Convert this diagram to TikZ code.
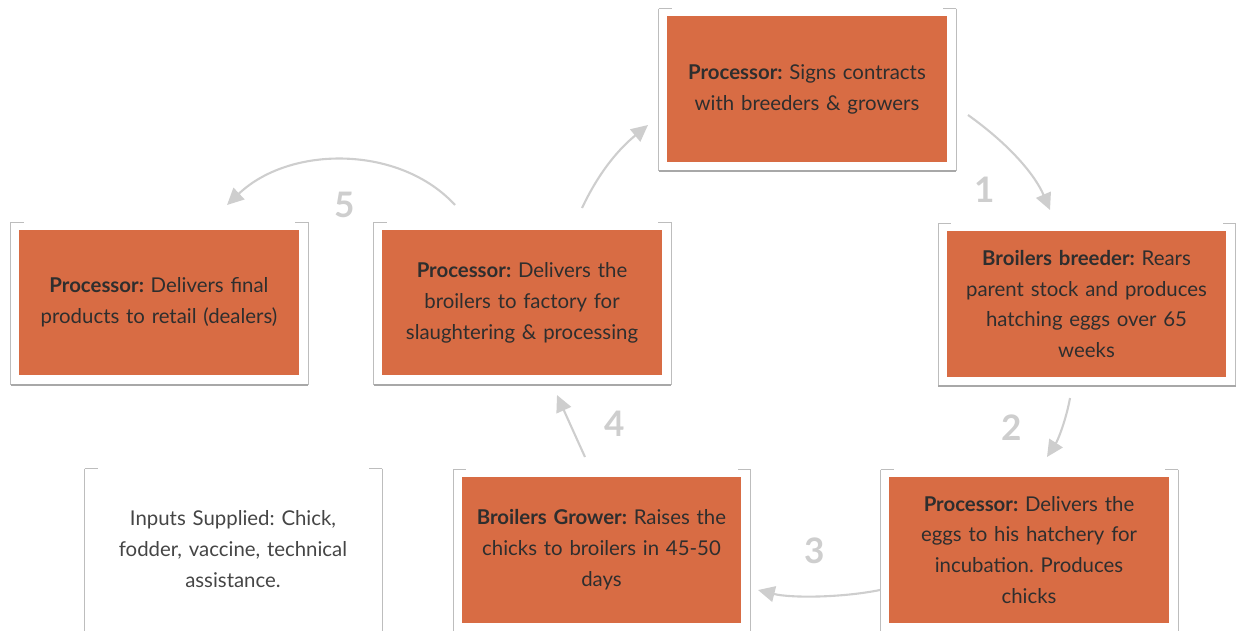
\documentclass[tikz,border=0pt]{standalone}
\usepackage{fontspec}
\setmainfont{Lato}
\frenchspacing
\usetikzlibrary{arrows.meta}
\definecolor{boxorange}{HTML}{D86C44}
\definecolor{boxtext}{HTML}{2E2E2E}
\definecolor{plaintext}{HTML}{454545}
\definecolor{arrowgrey}{HTML}{CECECE}
\definecolor{framegrey}{HTML}{BDBDBD}
\definecolor{shadowgrey}{HTML}{A8A8A8}
\tikzset{
  stagebox/.style={fill=boxorange,draw=none,minimum width=5.6cm,minimum height=2.92cm,
    inner sep=0pt,text width=5.3cm,align=center,text=boxtext,
    font=\fontsize{11.6}{17.6}\selectfont},
  plainbox/.style={stagebox,fill=none,text=plaintext},
  cycle arrow/.style={draw=arrowgrey,line width=1.2pt,
    -{Triangle[length=9.5pt,width=9pt]}},
  stepnum/.style={text=arrowgrey,font=\fontsize{20}{20}\selectfont\bfseries}
}
% white card round a box: grey sides, stubs on top, shadow below
\newcommand\cardframe[2][9]{%
  \draw[framegrey,line width=.5pt] ([shift={(-8,-7)}]#2.north west) -- ([shift={(-8,#1)}]#2.south west);
  \draw[framegrey,line width=.5pt] ([shift={(9,-7)}]#2.north east) -- ([shift={(9,#1)}]#2.south east);
  \draw[framegrey,line width=.5pt] ([shift={(-8,-7)}]#2.north west) -- +(13,0);
  \draw[framegrey,line width=.5pt] ([shift={(9,-7)}]#2.north east) -- +(-13,0);
  \draw[shadowgrey,line width=1.1pt] ([shift={(-8,#1)}]#2.south west) -- ([shift={(9,#1)}]#2.south east);
}
\begin{document}
\begin{tikzpicture}[x=0.02cm,y=-0.02cm]
  \useasboundingbox (0,0) rectangle (1236,630);
  \clip (0,0) rectangle (1236,630);

  \node[stagebox] (contract) at (807,89) {\textbf{Processor:} Signs contracts\\with breeders \& growers};
  \node[stagebox] (breeder) at (1086.5,304) {\textbf{Broilers breeder:} Rears\\parent stock and produces\\hatching eggs over 65\\weeks};
  \node[stagebox] (hatch) at (1029,550) {\textbf{Processor:} Delivers the\\eggs to his hatchery for\\incubation. Produces\\chicks};
  \node[stagebox] (grower) at (601.5,550) {\textbf{Broilers Grower:} Raises the\\chicks to broilers in 45-50\\days};
  \node[stagebox] (factory) at (522,302.5) {\textbf{Processor:} Delivers the\\broilers to factory for\\slaughtering \& processing};
  \node[stagebox] (retail) at (159,302.5) {\textbf{Processor:} Delivers final\\products to retail (dealers)};
  \node[plainbox] (inputs) at (233,549) {Inputs Supplied: Chick,\\fodder, vaccine, technical\\assistance.};

  \cardframe{contract}
  \cardframe{breeder}
  \cardframe[30]{hatch}
  \cardframe[30]{grower}
  \cardframe{factory}
  \cardframe{retail}
  \cardframe[30]{inputs}

  % ends of the arrows
  \coordinate (a1s) at (968,115);  \coordinate (a1e) at (1050,210);
  \coordinate (a2s) at (1070,398); \coordinate (a2e) at (1047,457);
  \coordinate (a3s) at (880,590);  \coordinate (a3e) at (758,590);
  \coordinate (a4s) at (585,457);  \coordinate (a4e) at (557,395);
  \coordinate (a5s) at (455,205);  \coordinate (a5e) at (227,205);
  \coordinate (a6s) at (582,208);  \coordinate (a6e) at (648,125);

  \draw[cycle arrow] (a1s) .. controls (1010,145) and (1035,175) .. (a1e);
  \draw[cycle arrow] (a2s) .. controls (1066,420) and (1058,440) .. (a2e);
  \draw[cycle arrow] (a3s) .. controls (840,598) and (790,598) .. (a3e);
  \draw[cycle arrow] (a4s) .. controls (575,435) and (566,415) .. (a4e);
  \draw[cycle arrow] (a5s) .. controls (400,145) and (290,145) .. (a5e);
  \draw[cycle arrow] (a6s) .. controls (600,170) and (620,148) .. (a6e);

  \node[stepnum] (n1) at (985,190) {1};
  \node[stepnum] (n2) at (1012,428) {2};
  \node[stepnum] (n3) at (815,551) {3};
  \node[stepnum] (n4) at (615,424) {4};
  \node[stepnum] (n5) at (345,205) {5};
\end{tikzpicture}
\end{document}
